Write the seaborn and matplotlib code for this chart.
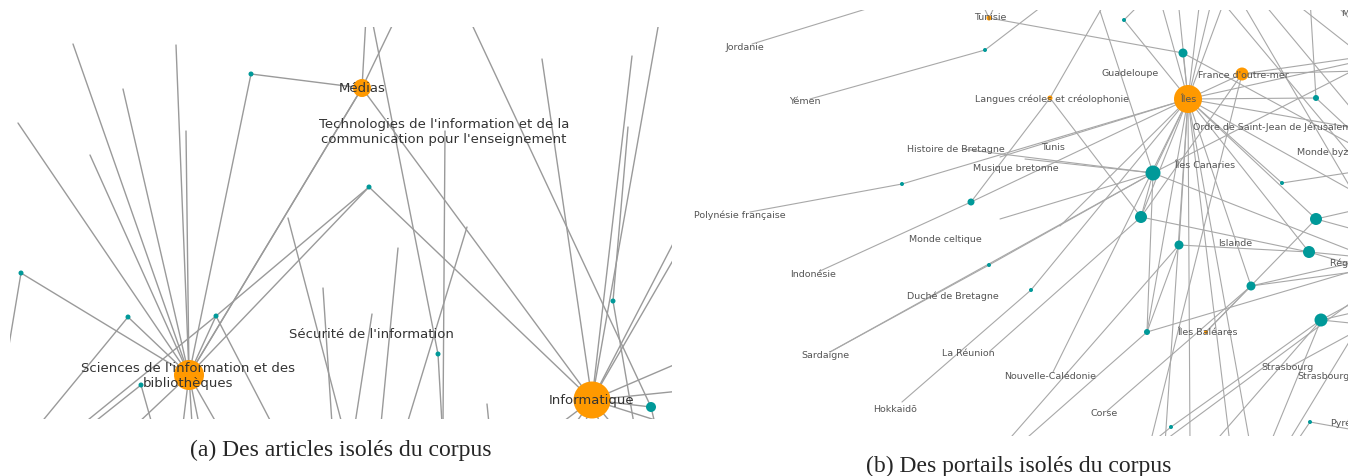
import matplotlib
matplotlib.use("Agg")
import matplotlib.pyplot as plt
import seaborn as sns
import pandas as pd

# --- 1. data : node layout (pixel coords) ---
PORTAL = "portail"
ARTICLE = "article"

# (a) articles isolés
left_nodes = ["Médias", "Sciences", "Informatique",
              "a1", "a2", "a3", "a4", "a5", "a6", "a7", "a8", "a9"]
left_x = [362, 189, 592, 251, 369, 21, 128, 216, 141, 438, 613, 651]
left_y = [89, 376, 401, 75, 188, 274, 318, 317, 386, 355, 302, 408]
left_diam = [18, 30, 37, 5, 5, 5, 5, 5, 5, 5, 5, 10]
left_kind = [PORTAL] * 3 + [ARTICLE] * 9

# loose ends (edges that leave the view or stop on a hidden node)
left_ends = ["e1", "e2", "e3", "e4", "e5", "e6", "e7", "e8", "e9", "e10",
             "e11", "e12", "e13", "e14", "e15", "e16", "e17", "e18", "e19",
             "e20", "e21", "e22", "e23", "e24", "e25", "e26", "e27", "e28",
             "e29", "e30", "e31", "e32", "e33", "e34", "e35", "e36", "e37",
             "e38", "e39", "e40", "e41", "e42", "e43", "e44", "e45", "e46",
             "e8b", "e47", "e48", "e49", "e50", "e51", "e52"]
left_end_x = [73, 123, 176, 186, 18, 90, 288, 342, 367, 405,
              368, 442, 445, 443, 467, 407, 460, 542, 632, 663,
              628, 634, 690, 690, 690, 690, 690, 560, 575, 585,
              600, 612, 655, 137, 183, 192, 199, 217, 250, 0,
              40, 272, 83, 92, 152, 323,
              332, 398, 372, 487, 381, 355, 489]
left_end_y = [45, 90, 46, 132, 124, 156, 219, 425, 0, 0,
              0, 425, 132, 425, 228, 425, 0, 60, 57, 0,
              128, 425, 212, 232, 359, 391, 432, 425, 425, 425,
              425, 425, 425, 425, 425, 425, 425, 425, 425, 400,
              425, 425, 425, 425, 425, 289,
              425, 249, 315, 405, 425, 425, 425]
left_src = ["e1", "e2", "e3", "e4", "e5", "e6", "e7", "Médias", "Médias",
            "e11", "a7", "e13", "e15", "e17", "e18", "Informatique",
            "Informatique", "e21", "a8", "Informatique", "Informatique",
            "Informatique", "Informatique", "Informatique", "Informatique",
            "Informatique", "Informatique", "Informatique", "Informatique",
            "a9", "Sciences", "Sciences", "Sciences", "Sciences", "Sciences",
            "Sciences", "a3", "a3", "a4", "a4", "a5", "a5", "a5", "a5",
            "a6", "a6", "a1", "a1", "Médias", "Médias", "a2", "a2",
            "e46", "e47", "e48", "e49", "Informatique"]
left_dst = ["Sciences", "Sciences", "Sciences", "Sciences", "Sciences",
            "Sciences", "e8", "e9", "e10", "a7", "e12", "e14", "e16", "a9",
            "Informatique", "e19", "e20", "a8", "e22", "e23", "e24", "e25",
            "e26", "e27", "e28", "e29", "e30", "e31", "e32", "e33", "e34",
            "e35", "e36", "e37", "e38", "Médias", "Sciences", "e40",
            "e41", "Sciences", "Sciences", "e42", "e43", "a2", "e44", "e45",
            "Médias", "Sciences", "Sciences", "Informatique", "Sciences",
            "Informatique", "e8b", "e50", "e51", "e52", "a9"]

left_labels = ["Médias",
               "Technologies de l'information et de la\ncommunication pour l'enseignement",
               "Sciences de l'information et des\nbibliothèques",
               "Sécurité de l'information", "Informatique"]
left_label_x = [362, 444, 188, 371, 592]
left_label_y = [89, 132, 376, 335, 401]

# (b) portails isolés
right_nodes = ["Îles", "Tunisie", "Langues", "France", "Baleares",
               "A", "B", "C", "D", "E", "F", "G", "H", "I", "J", "K",
               "L", "M", "N", "O", "P", "Q", "R", "S"]
right_x = [1188, 989, 1050, 1242, 1206, 1183, 1316, 1282, 1153, 1141, 1316,
           1179, 1309, 1251, 1321, 1147, 1124, 985, 902, 971, 989, 1031,
           1171, 1310]
right_y = [100, 19, 99, 75, 333, 54, 99, 184, 174, 218, 220, 246, 253, 287,
           321, 333, 21, 51, 185, 203, 266, 291, 428, 423]
right_diam = [28, 5, 5, 13, 4, 9, 6, 4, 15, 12, 12, 9, 12, 9, 13, 6,
              4, 4, 4, 7, 4, 4, 4, 4]
right_kind = [PORTAL] * 5 + [ARTICLE] * 19

# label-only nodes and loose ends
right_ends = ["Jordanie", "Yémen", "Polynésie", "Indonésie", "Sardaigne",
              "Réunion", "Hokkaidō", "Calédonie", "Corse", "Histoire",
              "Musique", "Tunis", "Strasbourg",
              "j_top", "m_top", "tun_a", "tun_b", "lang_top", "d_top",
              "b_top", "l_top", "il_t1", "il_t2", "il_t3", "il_t4", "il_t5",
              "d_r1", "d_r2", "i_r1", "i_r2", "f_r1", "f_r2", "h_r1", "h_r2",
              "j_r1", "j_r2", "j_r3", "s_r", "c_r", "b_r", "a_r", "fr_r1",
              "fr_r2", "il_r1", "il_r2", "il_r3", "k_r", "st_r",
              "k_b", "g_b", "j_b1", "j_b2", "r_b", "s_b", "fr_b", "il_b1",
              "il_b2", "il_b3", "il_b4", "d_l", "il_l",
              "c1a", "c1b", "c2a", "c2b", "c3a", "c3b", "c4a", "c4b",
              "c5a", "c5b", "c6a", "c6b", "c7a", "c7b"]
right_end_x = [752, 810, 750, 820, 830, 990, 902, 1053, 1107, 962,
               1025, 1000, 1290,
               915, 1045, 980, 998, 1107, 1100,
               1310, 1140, 1160, 1178, 1200, 1212, 1225,
               1360, 1360, 1360, 1360, 1360, 1360, 1360, 1360,
               1360, 1360, 1360, 1360, 1360, 1360, 1360, 1360,
               1360, 1360, 1360, 1360, 1360, 1360,
               1020, 1005, 1213, 1270, 1150, 1295, 1150, 1165,
               1190, 1230, 1250, 1000, 1060,
               1220, 1360, 1260, 1360, 1290, 1360, 1330, 1360,
               1240, 1360, 1160, 1360, 1287, 1360]
right_end_y = [45, 100, 213, 272, 353, 352, 403, 373, 412, 150,
               160, 158, 368,
               -5, 5, 0, 0, 0, 12,
               0, 5, 0, 0, 0, 0, 0,
               68, 255, 262, 272, 210, 232, 258, 268,
               300, 312, 325, 432, 172, 140, 150, 58,
               72, 62, 130, 196, 270, 330,
               445, 445, 445, 445, 445, 445, 445, 445,
               445, 445, 445, 220, 227,
               0, 167, 0, 120, 0, 55, 0, 30,
               0, 205, 445, 297, 445, 325]

right_src = ["Jordanie", "Yémen", "M", "Polynésie", "N",
             "Tunisie", "Tunisie", "Tunisie",
             "Langues", "Langues", "Langues", "O", "O",
             "Histoire", "Musique", "Sardaigne", "Sardaigne", "P",
             "Réunion", "Hokkaidō", "Q", "Calédonie", "Corse", "Tunis",
             "K", "K", "K", "K", "K",
             "G", "G", "G", "E", "E", "E", "E",
             "D", "D", "D", "D", "D",
             "I", "I", "I", "I", "F", "F", "F", "F",
             "H", "H", "H", "J", "J", "J", "J", "J", "J",
             "R", "S", "S", "C", "C", "B", "B", "B", "L", "L",
             "A", "A", "France", "France", "France", "France",
             "Îles", "Îles", "Îles", "Îles", "Îles", "Îles", "Îles", "Îles",
             "Îles", "Îles", "Îles", "Îles", "Îles", "Strasbourg",
             "c1a", "c2a", "c3a", "c4a", "c5a", "c6a", "c7a"]
right_dst = ["j_top", "M", "m_top", "N", "Îles",
             "A", "tun_a", "tun_b",
             "O", "E", "lang_top", "Îles", "Indonésie",
             "D", "D", "D", "P", "D",
             "E", "Q", "Îles", "Îles", "I", "Îles",
             "k_b", "G", "D", "k_r", "Îles",
             "Îles", "H", "g_b", "H", "D", "Îles", "France",
             "d_r1", "d_r2", "d_top", "d_l", "Îles",
             "Îles", "i_r1", "i_r2", "Baleares", "Îles", "Baleares", "f_r1",
             "f_r2",
             "Îles", "h_r1", "h_r2", "R", "j_b1", "j_b2", "j_r1", "j_r2",
             "j_r3",
             "r_b", "s_r", "s_b", "Îles", "c_r", "Îles", "b_top", "b_r",
             "Îles", "l_top",
             "Îles", "a_r", "Îles", "fr_r1", "fr_r2", "fr_b",
             "il_t1", "il_t2", "il_t3", "il_t4", "il_t5", "il_r1", "il_r2",
             "il_r3", "il_b1", "il_b2", "il_b3", "il_b4", "il_l", "st_r",
             "c1b", "c2b", "c3b", "c4b", "c5b", "c6b", "c7b"]

right_labels = ["Tunisie", "Jordanie", "Guadeloupe", "France d'outre-mer",
                "Langues créoles et créolophonie", "Yémen", "Îles",
                "Ordre de Saint-Jean de Jérusalem", "Histoire de Bretagne",
                "Tunis", "Musique bretonne", "Îles Canaries",
                "Polynésie française", "Monde celtique", "Islande",
                "Indonésie", "Duché de Bretagne", "Îles Baléares",
                "Sardaigne", "La Réunion", "Strasbourg",
                "Nouvelle-Calédonie", "Hokkaidō", "Corse"]
right_label_x = [990, 745, 1130, 1243, 1052, 805, 1188, 1272, 956, 1053,
                 1016, 1205, 740, 945, 1235, 813, 953, 1207, 825, 968, 1288,
                 1050, 895, 1104]
right_label_y = [18, 48, 74, 75, 99, 102, 100, 127, 150, 148, 169, 166, 215,
                 240, 244, 275, 296, 333, 356, 354, 368, 377, 410, 414]
# labels cut by the right border of the view
right_cut_labels = ["Monde byzantin", "Régions de France", "Strasbourg",
                    "Pyrénées", "Maghreb"]
right_cut_x = [1297, 1330, 1297, 1330, 1341]
right_cut_y = [153, 263, 377, 423, 14]

COLORS = {PORTAL: "#ff9900", ARTICLE: "#009999"}


# --- 2. helpers ---
def edge_frame(names, xs, ys, end_names, end_x, end_y, src, dst):
    pos = {n: (x, y) for n, x, y in zip(names, xs, ys)}
    pos.update({n: (x, y) for n, x, y in zip(end_names, end_x, end_y)})
    rows = []
    for k, (a, b) in enumerate(zip(src, dst)):
        for n in (a, b):
            rows.append({"edge": k, "x": pos[n][0], "y": pos[n][1]})
    return pd.DataFrame(rows)


def draw_network(ax, names, xs, ys, diam, kind, end_names, end_x, end_y,
                 src, dst, edge_color, edge_lw):
    edges = edge_frame(names, xs, ys, end_names, end_x, end_y, src, dst)
    sns.lineplot(data=edges, x="x", y="y", units="edge", estimator=None,
                 sort=False, color=edge_color, linewidth=edge_lw, ax=ax,
                 legend=False, zorder=1)
    nodes = pd.DataFrame({"x": xs, "y": ys, "kind": kind})
    sns.scatterplot(data=nodes, x="x", y="y", hue="kind", palette=COLORS,
                    s=[(d * 0.72) ** 2 for d in diam], edgecolor="none",
                    linewidth=0, legend=False, ax=ax, zorder=2)


def clean(ax, x0, x1, y0, y1):
    ax.set_xlim(x0, x1)
    ax.set_ylim(y1, y0)
    ax.set_axis_off()


# --- 3. figure ---
sns.set_style("white")
plt.rcParams["font.family"] = ["DejaVu Sans"]
W, H = 1348, 477
fig = plt.figure(figsize=(W / 100, H / 100), dpi=100)

# (a)
ax1 = fig.add_axes([10 / W, 1 - 420 / H, 662 / W, 392 / H])
draw_network(ax1, left_nodes, left_x, left_y, left_diam, left_kind,
             left_ends, left_end_x, left_end_y, left_src, left_dst,
             "#9a9a9a", 1.0)
for t, x, y in zip(left_labels, left_label_x, left_label_y):
    ax1.text(x, y, t, ha="center", va="center", fontsize=9.5,
             color="#333333", linespacing=1.2, zorder=3, clip_on=True)
clean(ax1, 10, 672, 28, 420)

# (b)
ax2 = fig.add_axes([690 / W, 1 - 437 / H, 658 / W, 426 / H])
draw_network(ax2, right_nodes, right_x, right_y, right_diam, right_kind,
             right_ends, right_end_x, right_end_y, right_src, right_dst,
             "#a8a8a8", 0.8)
for t, x, y in zip(right_labels, right_label_x, right_label_y):
    ax2.text(x, y, t, ha="center", va="center", fontsize=6.8,
             color="#555555", zorder=3, clip_on=True)
for t, x, y in zip(right_cut_labels, right_cut_x, right_cut_y):
    ax2.text(x, y, t, ha="left", va="center", fontsize=6.8,
             color="#555555", zorder=3, clip_on=True)
clean(ax2, 690, 1348, 11, 437)

# captions
fig.text(341 / W, 1 - 450 / H, "(a) Des articles isolés du corpus",
         ha="center", va="center", fontsize=17, family="Liberation Serif")
fig.text(1019 / W, 1 - 466 / H, "(b) Des portails isolés du corpus",
         ha="center", va="center", fontsize=17, family="Liberation Serif")

plt.savefig("out.png", dpi=100)
